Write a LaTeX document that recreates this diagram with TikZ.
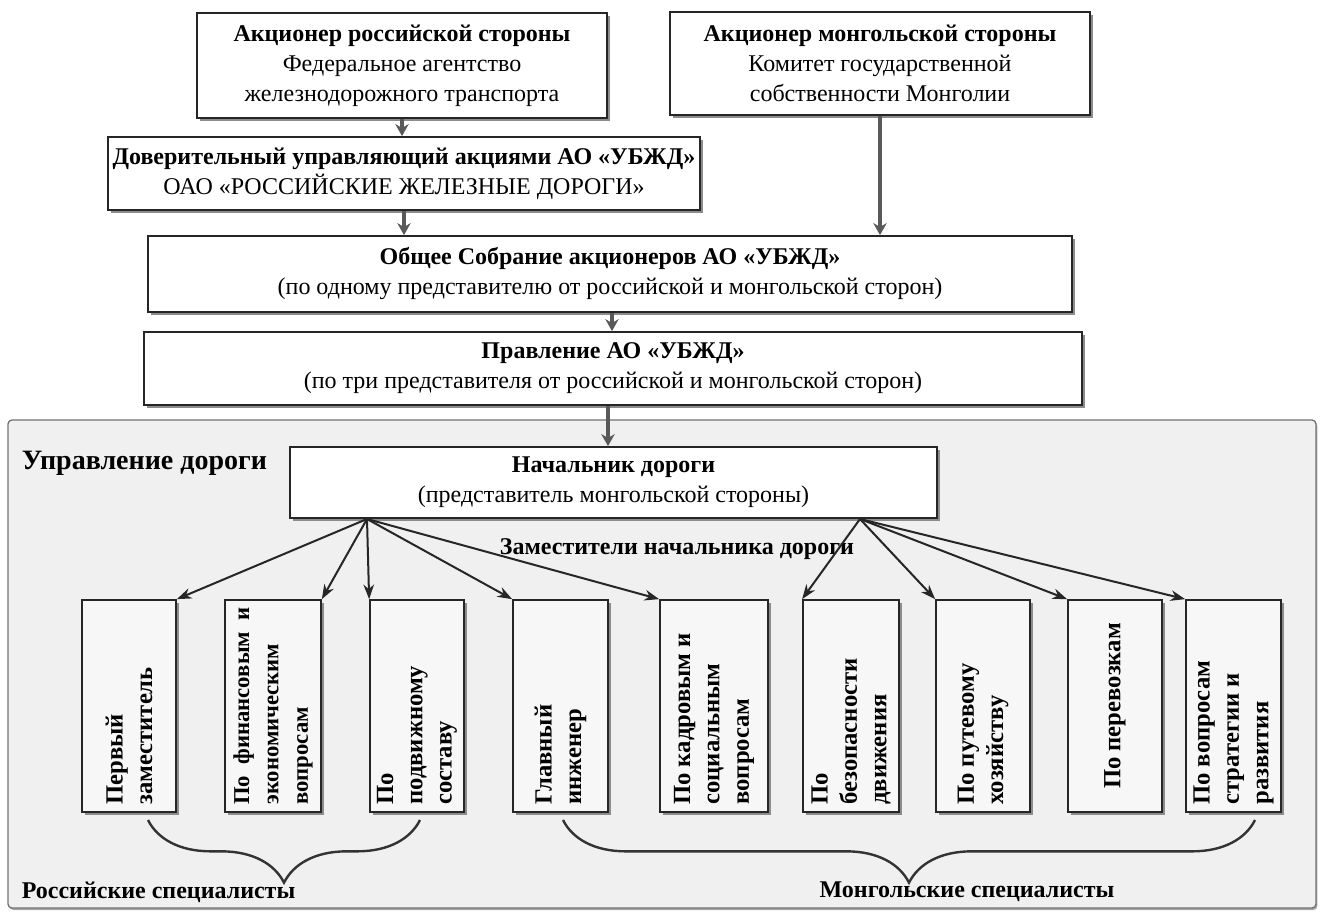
\documentclass[tikz,border=0pt]{standalone}
\usepackage{fontspec}
\setmainfont{Liberation Serif}
\usetikzlibrary{arrows.meta,shadows,decorations.pathreplacing}

\newcommand{\vtext}[2][]{\rotatebox{90}{\parbox{148pt}{#1#2}}}

\tikzset{every picture/.style={line width=0.75pt}}
\tikzset{
  orgbox/.style={draw=black!85, line width=1.3pt, fill=white, inner sep=2pt, align=center,
    font=\fontsize{18}{22.5}\selectfont,
    drop shadow={shadow xshift=2pt, shadow yshift=-2pt, fill=black!45, opacity=1}},
  zambox/.style={draw=black!85, line width=1.3pt, fill=black!3, inner sep=0pt,
    minimum height=159pt, font=\bfseries\fontsize{18.5}{22}\selectfont,
    drop shadow={shadow xshift=2pt, shadow yshift=-2pt, fill=black!45, opacity=1}},
  lbl/.style={font=\bfseries\fontsize{18}{22}\selectfont, inner sep=1pt},
  downarrow/.style={draw=black!65, line width=2.4pt, -{Stealth[length=9pt,width=10pt]}},
  fanarrow/.style={draw=black!85, line width=1.5pt, -{Stealth[length=11pt,width=8pt]}},
  bracket/.style={draw=black!80, line width=1.8pt, decorate, decoration={brace, mirror, amplitude=47pt}},
}

\begin{document}
\begin{tikzpicture}[x=0.75pt,y=0.75pt,yscale=-1,xscale=1]
\useasboundingbox (0,0) rectangle (1322,916);

%Shape: road management area
\node (road) [draw=black!55, line width=1pt, fill=black!6, rounded corners=3pt, inner sep=0pt,
  minimum width=981pt, minimum height=366pt,
  drop shadow={shadow xshift=1pt, shadow yshift=-1.5pt, fill=black!35, opacity=1}] at (662,664) {};
\node (roadlbl) [lbl, font=\bfseries\fontsize{21}{24}\selectfont, anchor=west] at (20,463) {Управление дороги};

%Shareholders and boards
\node (rusown) [orgbox, minimum width=307.5pt, minimum height=78.75pt] at (402,65.5) {\textbf{Акционер российской стороны}\\Федеральное агентство\\железнодорожного транспорта};
\node (monown) [orgbox, minimum width=315pt, minimum height=77.25pt] at (880,63.5) {\textbf{Акционер монгольской стороны}\\Комитет государственной\\собственности Монголии};
\node (trust) [orgbox, minimum width=444pt, minimum height=54.75pt] at (404,173.5) {\textbf{Доверительный управляющий акциями АО «УБЖД»}\\ОАО «РОССИЙСКИЕ ЖЕЛЕЗНЫЕ ДОРОГИ»};
\node (meet) [orgbox, minimum width=693pt, minimum height=57pt] at (610,274) {\textbf{Общее Собрание акционеров АО «УБЖД»}\\(по одному представителю от российской и монгольской сторон)};
\node (board) [orgbox, minimum width=703.5pt, minimum height=54.75pt] at (613,368.5) {\textbf{Правление АО «УБЖД»}\\(по три представителя от российской и монгольской сторон)};
\node (chief) [orgbox, minimum width=485.25pt, minimum height=53.25pt] at (613.5,482.5) {\textbf{Начальник дороги}\\(представитель монгольской стороны)};

%Straight Lines (vertical links)
\coordinate (meetx) at (612,0);
\coordinate (boardx) at (608,0);
\draw [downarrow] (rusown.south) -- (rusown.south |- trust.north);
\draw [downarrow] (monown.south) -- (monown.south |- meet.north);
\draw [downarrow] (trust.south) -- (trust.south |- meet.north);
\draw [downarrow] (meet.south -| meetx) -- (meetx |- board.north);
\draw [downarrow] (board.south -| boardx) -- (boardx |- chief.north);

%Deputies
\node (zamlbl) [lbl] at (677,549) {Заместители начальника дороги};
\node (z1) [zambox, minimum width=70.5pt] at (129,706) {\vtext{Первый\\заместитель}};
\node (z2) [zambox, minimum width=72pt, font=\bfseries\fontsize{17}{22}\selectfont] at (273,706) {\vtext{По финансовым и\linebreak экономическим\\вопросам}};
\node (z3) [zambox, minimum width=70.5pt] at (417,706) {\vtext{По\\подвижному\\составу}};
\node (z4) [zambox, minimum width=71.25pt] at (560.5,706) {\vtext{Главный\\инженер}};
\node (z5) [zambox, minimum width=81pt] at (714,706) {\vtext{По кадровым и\\социальным\\вопросам}};
\node (z6) [zambox, minimum width=72pt] at (851,706) {\vtext{По\\безопасности\\движения}};
\node (z7) [zambox, minimum width=70.5pt] at (983,706) {\vtext{По путевому\\хозяйству}};
\node (z8) [zambox, minimum width=70.5pt] at (1115,706) {\vtext[\centering]{По перевозкам}};
\node (z9) [zambox, minimum width=71.25pt] at (1233.5,706) {\vtext{По вопросам\\стратегии и\\развития}};

%Fan of arrows
\coordinate (fanL) at (367,519);
\coordinate (fanR) at (860,519);
\draw [fanarrow] (fanL) -- (z1.north east);
\draw [fanarrow] (fanL) -- (z2.north east);
\draw [fanarrow] (fanL) -- (z3.north west);
\draw [fanarrow] (fanL) -- (z4.north west);
\draw [fanarrow] (fanL) -- (z5.north west);
\draw [fanarrow] (fanR) -- (z6.north west);
\draw [fanarrow] (fanR) -- (z7.north west);
\draw [fanarrow] (fanR) -- (z8.north west);
\draw [fanarrow] (fanR) -- (z9.north west);

%Braces
\coordinate (rusL) at (148,820);
\coordinate (rusR) at (420,820);
\coordinate (monL) at (563,820);
\coordinate (monR) at (1255,820);
\draw [bracket] (rusL) -- (rusR);
\draw [bracket] (monL) -- (monR);
\node (ruslbl) [lbl, anchor=west] at (20,892) {Российские специалисты};
\node (monlbl) [lbl] at (967,892) {Монгольские специалисты};

\end{tikzpicture}
\end{document}
